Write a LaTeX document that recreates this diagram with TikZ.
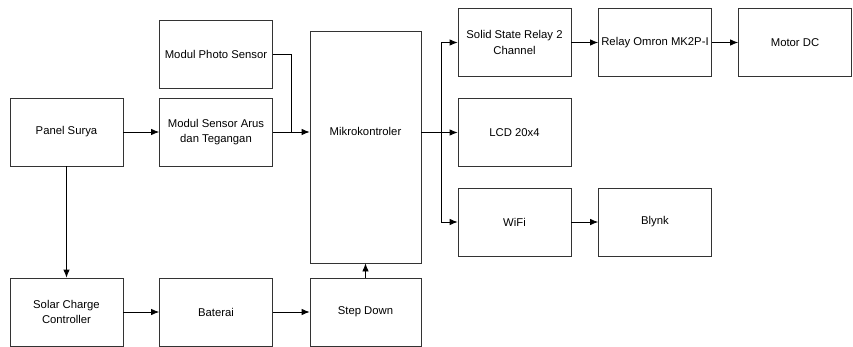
\documentclass[tikz,border=0pt]{standalone}
\usepackage{fontspec}
\setmainfont{Liberation Sans}
\usetikzlibrary{arrows.meta,calc,positioning}

\begin{document}
\begin{tikzpicture}[x=1pt,y=-1pt,
    blok/.style={draw=black!80,line width=0.8pt,minimum width=113pt,minimum height=68pt,
      align=center,inner sep=2pt,font=\fontsize{11.3}{15.5}\selectfont},
    panah/.style={-{Latex[length=8pt,width=6.5pt]},line width=0.8pt}]
    \useasboundingbox (0,0) rectangle (853,347);
    % Blok sumber daya
    \node[blok] (panel) at (66.5,132) {Panel Surya};
    \node[blok] (scc) at (66.5,312) {Solar Charge\\Controller};
    \node[blok] (baterai) at (216,312) {Baterai};
    \node[blok,minimum width=111pt] (stepdown) at (365.5,312) {Step Down};
    % Blok sensor dan pengendali
    \node[blok] (photo) at (216,54) {Modul Photo Sensor};
    \node[blok] (sensor) at (216,132) {Modul Sensor Arus\\dan Tegangan};
    \node[blok,minimum width=111pt,minimum height=232pt,text height=8pt,text depth=30pt]
      (mikro) at (365.5,147) {Mikrokontroler};
    % Blok keluaran
    \node[blok] (ssr) at (514.5,42.5) {Solid State Relay 2\\Channel};
    \node[blok] (omron) at (655,42.5) {Relay Omron MK2P-I};
    \node[blok] (motor) at (795,42.5) {Motor DC};
    \node[blok] (lcd) at (514.5,132.5) {LCD 20x4};
    \node[blok] (wifi) at (514.5,222) {WiFi};
    \node[blok] (blynk) at (655,222) {Blynk};
    % Titik cabang
    \coordinate (gabung) at ($(sensor.east)!0.5!(sensor.east -| mikro.west)$);
    \coordinate (cabang) at (441,132.5);
    % Panah masukan
    \draw[panah] (panel) -- (sensor);
    \draw[panah] (sensor.east) -- (sensor.east -| mikro.west);
    \draw[line width=0.8pt] (photo.east) -| (gabung);
    \draw[panah] (panel) -- (scc);
    \draw[panah] (scc) -- (baterai);
    \draw[panah] (baterai) -- (stepdown);
    \draw[panah] (stepdown) -- (mikro);
    % Panah keluaran
    \draw[line width=0.8pt] (mikro.east |- cabang) -- (cabang);
    \draw[panah] (cabang) |- (ssr.west);
    \draw[panah] (cabang) -- (lcd.west);
    \draw[panah] (cabang) |- (wifi.west);
    \draw[panah] (ssr) -- (omron);
    \draw[panah] (omron) -- (motor);
    \draw[panah] (wifi) -- (blynk);
\end{tikzpicture}
\end{document}
